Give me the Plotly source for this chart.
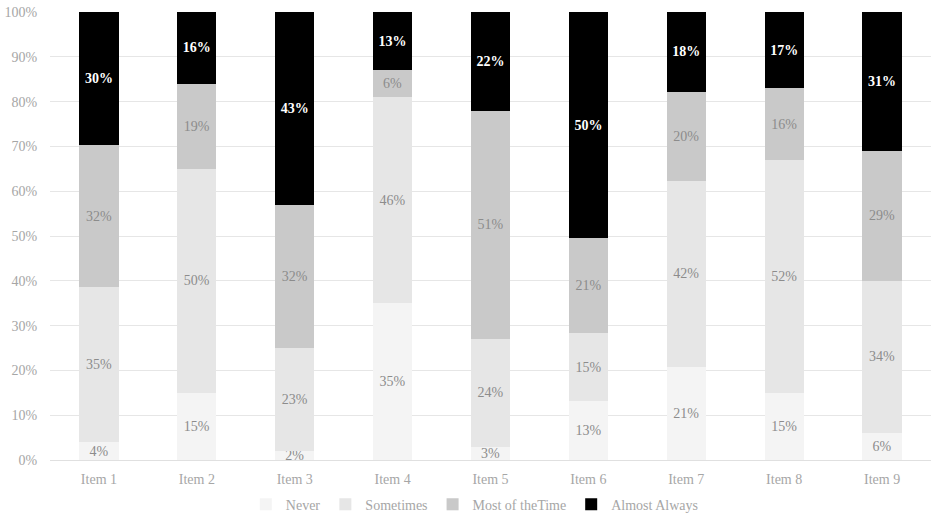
import plotly.graph_objects as go

items = ["Item 1", "Item 2", "Item 3", "Item 4", "Item 5", "Item 6", "Item 7", "Item 8", "Item 9"]
never = [4, 15, 2, 35, 3, 13, 21, 15, 6]
sometimes = [35, 50, 23, 46, 24, 15, 42, 52, 34]
most = [32, 19, 32, 6, 51, 21, 20, 16, 29]
almost = [30, 16, 43, 13, 22, 50, 18, 17, 31]
series_names = ["Never", "Sometimes", "Most of theTime", "Almost Always"]

colors = ["#f4f4f4", "#e6e6e6", "#c9c9c9", "#000000"]
text_colors = ["#8c8c8c", "#8c8c8c", "#8c8c8c", "#ffffff"]
font_fam = "Times New Roman, Liberation Serif, serif"

fig = go.Figure()
for name, vals, col, tcol in zip(series_names, [never, sometimes, most, almost], colors, text_colors):
    fig.add_trace(go.Bar(
        x=items, y=vals, name=name,
        marker=dict(color=col, line=dict(width=0)),
        text=[f"{v}%" for v in vals],
        textposition="inside", insidetextanchor="middle",
        textfont=dict(color=tcol, size=14, family=font_fam),
        texttemplate="<b>%{text}</b>" if name == "Almost Always" else "%{text}",
        cliponaxis=False,
        hoverinfo="skip",
    ))

fig.update_layout(
    width=931, height=515,
    barmode="stack", barnorm="percent", bargap=0.6,
    plot_bgcolor="white", paper_bgcolor="white",
    margin=dict(l=50, r=0, t=12, b=55, autoexpand=False),
    font=dict(family=font_fam, size=14, color="#a6a6a6"),
    uniformtext=dict(minsize=14, mode="show"),
    legend=dict(orientation="h", x=0.51, xanchor="center", xref="container",
                y=0.02, yanchor="middle", yref="container",
                font=dict(size=14, color="#a6a6a6"), traceorder="normal",
                itemwidth=30),
    showlegend=True,
)
fig.update_yaxes(range=[0, 100], dtick=10, ticksuffix="%", showgrid=True,
                 gridcolor="#e6e6e6", gridwidth=1, zeroline=False, showline=False,
                 tickfont=dict(size=14, color="#a6a6a6"), ticks="outside",
                 ticklen=9, tickcolor="rgba(0,0,0,0)")
fig.update_xaxes(showline=True, linecolor="#e0e0e0", linewidth=1,
                 tickfont=dict(size=14, color="#a6a6a6"), ticks="outside",
                 ticklen=6, tickcolor="rgba(0,0,0,0)")

fig.write_html("out.html")
